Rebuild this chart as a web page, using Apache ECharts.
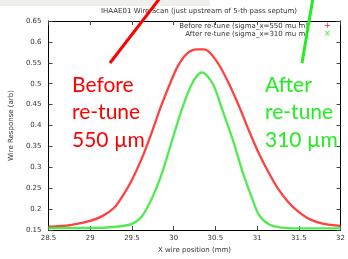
<!DOCTYPE html>
<html>
<head>
<meta charset="utf-8">
<script src="https://cdn.jsdelivr.net/npm/echarts@6/dist/echarts.min.js"></script>
<style>
  html, body { margin: 0; padding: 0; background: #fff; }
  #chart { width: 348px; height: 259px; }
</style>
</head>
<body>
<div id="chart"></div>
<script>
const FONT = 'DejaVu Sans, sans-serif'
const BIG_FONT = 'Lato, Open Sans, sans-serif'

// readings (mm, arb)
const beforeX = [28.5, 28.76, 29.0, 29.15, 29.29, 29.39, 29.5, 29.62, 29.74, 29.85, 29.95, 30.05, 30.16, 30.28, 30.36, 30.44, 30.55, 30.67, 30.79, 30.9, 31.02, 31.14, 31.25, 31.37, 31.49, 31.64, 31.8, 32.0]
const beforeY = [0.158, 0.162, 0.172, 0.184, 0.204, 0.232, 0.27, 0.322, 0.385, 0.447, 0.497, 0.542, 0.572, 0.582, 0.582, 0.573, 0.543, 0.497, 0.443, 0.389, 0.334, 0.287, 0.249, 0.218, 0.195, 0.175, 0.165, 0.16]
const afterX = [28.5, 29.0, 29.31, 29.5, 29.62, 29.74, 29.85, 29.97, 30.09, 30.2, 30.28, 30.34, 30.4, 30.48, 30.59, 30.71, 30.83, 30.94, 31.02, 31.14, 31.29, 31.5, 32.0]
const afterY = [0.155, 0.155, 0.158, 0.165, 0.183, 0.226, 0.28, 0.357, 0.434, 0.492, 0.519, 0.527, 0.519, 0.496, 0.434, 0.365, 0.287, 0.226, 0.187, 0.164, 0.156, 0.154, 0.154]

const legendNames = ['Before re-tune (sigma_x=550 mu m)', 'After re-tune (sigma_x=310 mu m)']
const bigLabels = ['Before\nre-tune\n550 µm', 'After\nre-tune\n310 µm']

const RED = '#ff2020'
const GREEN = '#33e833'

const zip = (xs, ys) => xs.map((x, i) => [x, ys[i]])

const myChart = echarts.init(document.getElementById('chart'), null, { renderer: 'canvas' })

const axisCommon = {
  axisLine: { show: true, lineStyle: { color: '#000', width: 1 } },
  axisTick: { show: true, inside: true, length: 4, lineStyle: { color: '#444' } },
  splitLine: { show: false },
}

const options = {
  animation: false,
  backgroundColor: '#fff',
  title: {
    text: 'IHAAE01 Wire Scan (just upstream of 5-th pass septum)',
    left: 194, top: 3, textAlign: 'center',
    textStyle: { fontSize: 7, fontWeight: 'normal', color: '#333', fontFamily: FONT },
  },
  grid: { left: 44, right: 4, top: 21, bottom: 23 },
  xAxis: [
    {
      type: 'value', min: 28.5, max: 32, interval: 0.5,
      name: 'X wire position (mm)', nameLocation: 'middle', nameGap: 15,
      nameTextStyle: { fontSize: 7, color: '#333', fontFamily: FONT },
      axisLabel: { fontSize: 7, color: '#333', margin: 5, fontFamily: FONT },
      ...axisCommon,
    },
    {
      type: 'value', min: 28.5, max: 32, interval: 0.5, position: 'top',
      axisLabel: { show: false }, ...axisCommon,
    },
  ],
  yAxis: [
    {
      type: 'value', min: 0.15, max: 0.65, interval: 0.05,
      name: 'Wire Response (arb)', nameLocation: 'middle', nameGap: 29,
      nameTextStyle: { fontSize: 7, color: '#333', fontFamily: FONT },
      axisLabel: { fontSize: 7, color: '#333', margin: 7, fontFamily: FONT, formatter: (v) => String(+v.toFixed(2)) },
      ...axisCommon,
    },
    {
      type: 'value', min: 0.15, max: 0.65, interval: 0.05, position: 'right',
      axisLabel: { show: false }, ...axisCommon,
    },
  ],
  series: [
    {
      name: legendNames[0], type: 'line', smooth: 0.3, showSymbol: false,
      data: zip(beforeX, beforeY),
      lineStyle: { color: RED, width: 2.3, opacity: 0.85 },
      z: 3,
    },
    {
      name: legendNames[1], type: 'line', smooth: 0.3, showSymbol: false,
      data: zip(afterX, afterY),
      lineStyle: { color: GREEN, width: 2.3, opacity: 0.85 },
      z: 4,
    },
  ],
  graphic: [
    // faint band at the very top (screenshot artefact)
    { type: 'rect', shape: { x: 0, y: 0, width: 210, height: 6 }, style: { fill: '#eef1ea' }, z: 0 },
    // legend
    { type: 'text', right: 40, top: 23, style: { text: legendNames[0], fontSize: 7, fill: '#333', fontFamily: FONT, textAlign: 'right' }, z: 10 },
    { type: 'text', right: 40, top: 31, style: { text: legendNames[1], fontSize: 7, fill: '#333', fontFamily: FONT, textAlign: 'right' }, z: 10 },
    { type: 'text', left: 324, top: 22, style: { text: '+', fontSize: 8, fill: RED, fontFamily: FONT }, z: 10 },
    { type: 'text', left: 324, top: 30, style: { text: '×', fontSize: 8, fill: GREEN, fontFamily: FONT }, z: 10 },
    // annotation strokes
    { type: 'line', shape: { x1: 110, y1: 63, x2: 160, y2: -2 }, style: { stroke: '#ff0000', lineWidth: 3 }, z: 20 },
    { type: 'line', shape: { x1: 302, y1: 63, x2: 313, y2: -2 }, style: { stroke: '#22ee22', lineWidth: 3 }, z: 20 },
    // big annotation labels
    { type: 'text', left: 72, top: 71, style: { text: bigLabels[0], fontSize: 21, lineHeight: 27.5, fill: '#ff0000', fontFamily: BIG_FONT }, z: 20 },
    { type: 'text', left: 265, top: 71, style: { text: bigLabels[1], fontSize: 21, lineHeight: 27.5, fill: '#22ee22', fontFamily: BIG_FONT }, z: 20 },
  ],
}

myChart.setOption(options)
</script>
</body>
</html>
